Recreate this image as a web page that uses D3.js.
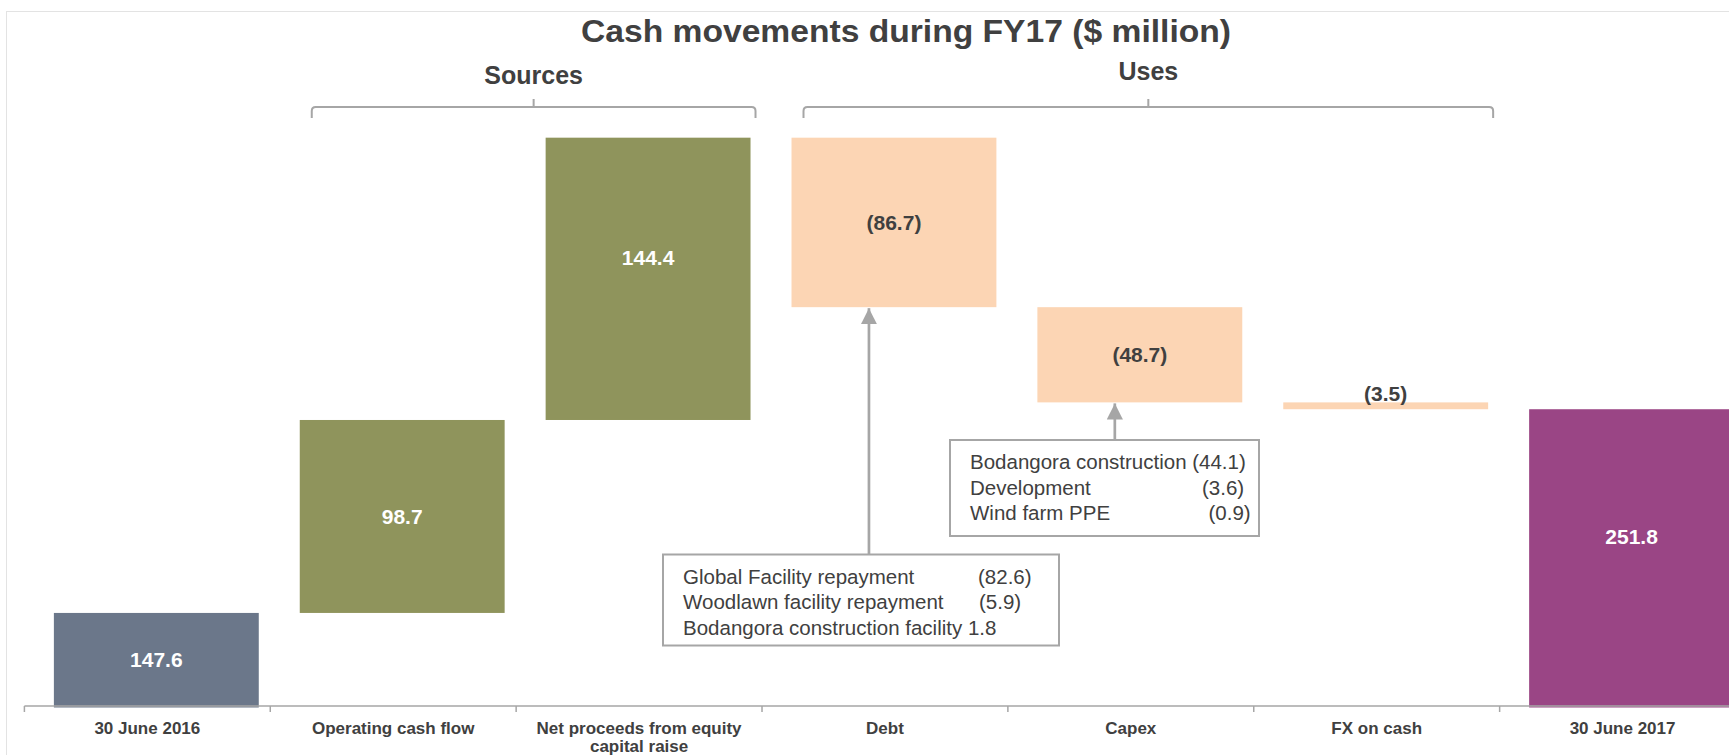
<!DOCTYPE html>
<html>
<head>
<meta charset="utf-8">
<script src="https://cdn.jsdelivr.net/npm/d3@7"></script>
<style>
  body { margin: 0; background: #fff; }
  svg { display: block; font-family: "Liberation Sans", Arial, sans-serif; }
</style>
</head>
<body>
<script>
// chart data
var categories = ["30 June 2016", "Operating cash flow", "Net proceeds from equity capital raise", "Debt", "Capex", "FX on cash", "30 June 2017"];
var catLines = [["30 June 2016"], ["Operating cash flow"], ["Net proceeds from equity", "capital raise"], ["Debt"], ["Capex"], ["FX on cash"], ["30 June 2017"]];
var values = [147.6, 98.7, 144.4, -86.7, -48.7, -3.5, 251.8];
var kinds = ["total", "delta", "delta", "delta", "delta", "delta", "total"];
var valueLabels = ["147.6", "98.7", "144.4", "(86.7)", "(48.7)", "(3.5)", "251.8"];
var barColors = ["#6b778a", "#8f945c", "#8f945c", "#fcd5b4", "#fcd5b4", "#fcd5b4", "#9a4585"];
var labelColors = ["#fff", "#fff", "#fff", "#404040", "#404040", "#404040", "#fff"];

var groups = [
  {name: "Sources", from: "Operating cash flow", to: "Net proceeds from equity capital raise"},
  {name: "Uses", from: "Debt", to: "FX on cash"}
];

var debtNotes = [["Global Facility repayment", "(82.6)"], ["Woodlawn facility repayment", "(5.9)"], ["Bodangora construction facility 1.8", ""]];
var capexNotes = [["Bodangora construction (44.1)", ""], ["Development", "(3.6)"], ["Wind farm PPE", "(0.9)"]];

// layout tweaks (label nudges as placed in the original slide)
var labelNudge = [0, 0, -21, 0, 0, 0, -21];

var width = 1729, height = 755;
var textColor = "#404040", lineColor = "#a6a6a6";

var svg = d3.select("body").append("svg")
	.attr("width", width)
	.attr("height", height);

// frame
svg.append("rect")
	.attr("x", 6.5).attr("y", 11.5)
	.attr("width", width + 20).attr("height", height)
	.style("fill", "none")
	.style("stroke", "#e3e3e3")
	.style("stroke-width", 1);

// scales
var xTick = d3.scaleBand().domain(categories).range([24.4, 1745.5]);
var xBar = d3.scaleBand().domain(categories).range([33.4, 1754.5])
	.paddingInner(0.1667).paddingOuter(0.0833);
var yScale = d3.scaleLinear().domain([100, 400]).range([706, 119.5]);
var base = yScale.domain()[0];

// waterfall steps
var running = 0;
var steps = categories.map(function(c, i) {
	var s, e;
	if (kinds[i] == "total") { s = base; e = values[i]; running = values[i]; }
	else { s = running; e = running + values[i]; running = e; }
	return {cat: c, lo: Math.min(s, e), hi: Math.max(s, e), i: i};
});

// title
svg.append("text")
	.attr("x", 906).attr("y", 42)
	.attr("text-anchor", "middle")
	.attr("textLength", 650)
	.attr("lengthAdjust", "spacingAndGlyphs")
	.style("font-size", "32px").style("font-weight", "bold")
	.style("fill", textColor)
	.text("Cash movements during FY17 ($ million)");

// group brackets
groups.forEach(function(g, k) {
	var x0 = xBar(g.from) + 12;
	var x1 = xBar(g.to) + xBar.bandwidth() + 5;
	var xm = (x0 + x1) / 2;
	var yb = 107, r = 4;
	svg.append("path")
		.attr("d", "M" + x0 + "," + (yb + 11) + " V" + (yb + r) + " Q" + x0 + "," + yb + " " + (x0 + r) + "," + yb +
			" H" + (x1 - r) + " Q" + x1 + "," + yb + " " + x1 + "," + (yb + r) + " V" + (yb + 11) +
			" M" + xm + "," + yb + " V" + (yb - 8))
		.style("fill", "none")
		.style("stroke", lineColor)
		.style("stroke-width", 2);
	svg.append("text")
		.attr("x", xm).attr("y", k == 0 ? 84 : 80)
		.attr("text-anchor", "middle")
		.style("font-size", "25px").style("font-weight", "bold")
		.style("fill", textColor)
		.text(g.name);
});

// bars
svg.append("g")
	.attr("id", "bars")
	.selectAll("rect")
	.data(steps)
	.enter()
	.append("rect")
	.attr("x", function(d) { return xBar(d.cat); })
	.attr("y", function(d) { return yScale(d.hi); })
	.attr("width", xBar.bandwidth())
	.attr("height", function(d) { return yScale(d.lo) - yScale(d.hi) + (d.lo == base ? 1.5 : 0); })
	.attr("fill", function(d) { return barColors[d.i]; });

// value labels
svg.append("g")
	.selectAll("text")
	.data(steps)
	.enter()
	.append("text")
	.attr("x", function(d) { return xBar(d.cat) + xBar.bandwidth() / 2; })
	.attr("y", function(d) {
		var h = yScale(d.lo) - yScale(d.hi);
		if (h < 30) return yScale(d.hi) - 1;
		return (yScale(d.lo) + yScale(d.hi)) / 2 + 7.5 + labelNudge[d.i];
	})
	.attr("text-anchor", "middle")
	.style("font-size", "21px").style("font-weight", "bold")
	.style("fill", function(d) {
		var h = yScale(d.lo) - yScale(d.hi);
		return h < 30 ? textColor : labelColors[d.i];
	})
	.text(function(d) { return valueLabels[d.i]; });

// x axis
var axisY = yScale(base);
svg.append("line")
	.attr("x1", xTick.range()[0]).attr("x2", width)
	.attr("y1", axisY).attr("y2", axisY)
	.style("stroke", lineColor).style("stroke-width", 1.5);
svg.append("g")
	.selectAll("line")
	.data(categories)
	.enter()
	.append("line")
	.attr("x1", function(d) { return xTick(d); })
	.attr("x2", function(d) { return xTick(d); })
	.attr("y1", axisY).attr("y2", axisY + 6)
	.style("stroke", lineColor).style("stroke-width", 1.5);

var catText = svg.append("g")
	.selectAll("text")
	.data(categories)
	.enter()
	.append("text")
	.attr("text-anchor", "middle")
	.style("font-size", "17px").style("font-weight", "bold")
	.style("fill", textColor);
catText.each(function(d, i) {
	var t = d3.select(this);
	catLines[i].forEach(function(line, j) {
		t.append("tspan")
			.attr("x", xTick(d) + xTick.bandwidth() / 2)
			.attr("y", 734 + j * 17.5)
			.text(line);
	});
});

// arrowhead
svg.append("defs").append("marker")
	.attr("id", "arrow")
	.attr("viewBox", "0 0 10 10")
	.attr("refX", 10).attr("refY", 5)
	.attr("markerWidth", 6).attr("markerHeight", 6)
	.attr("markerUnits", "strokeWidth")
	.attr("orient", "auto")
	.append("path")
	.attr("d", "M0,0 L10,5 L0,10 Z")
	.style("fill", lineColor);

// annotation boxes
function noteBox(cat, notes, box, valX) {
	var s = steps[categories.indexOf(cat)];
	var ax = xBar(cat) + xBar.bandwidth() / 2 - 25;
	svg.append("line")
		.attr("x1", ax).attr("x2", ax)
		.attr("y1", box.y).attr("y2", yScale(s.lo) + 1)
		.style("stroke", lineColor).style("stroke-width", 2.7)
		.attr("marker-end", "url(#arrow)");
	svg.append("rect")
		.attr("x", box.x).attr("y", box.y)
		.attr("width", box.w).attr("height", box.h)
		.style("fill", "#fff")
		.style("stroke", lineColor)
		.style("stroke-width", 2);
	notes.forEach(function(n, j) {
		svg.append("text")
			.attr("x", box.x + 20).attr("y", box.y + 29 + j * 25.6)
			.style("font-size", "20.5px")
			.style("fill", textColor)
			.text(n[0]);
		if (n[1] != "") {
			svg.append("text")
				.attr("x", valX[j]).attr("y", box.y + 29 + j * 25.6)
				.style("font-size", "20.5px")
				.style("fill", textColor)
				.text(n[1]);
		}
	});
}
noteBox("Debt", debtNotes, {x: 663, y: 554.5, w: 396, h: 91}, [978, 979, 0]);
noteBox("Capex", capexNotes, {x: 950, y: 440, w: 309, h: 96}, [0, 1202, 1208.5]);
</script>
</body>
</html>
